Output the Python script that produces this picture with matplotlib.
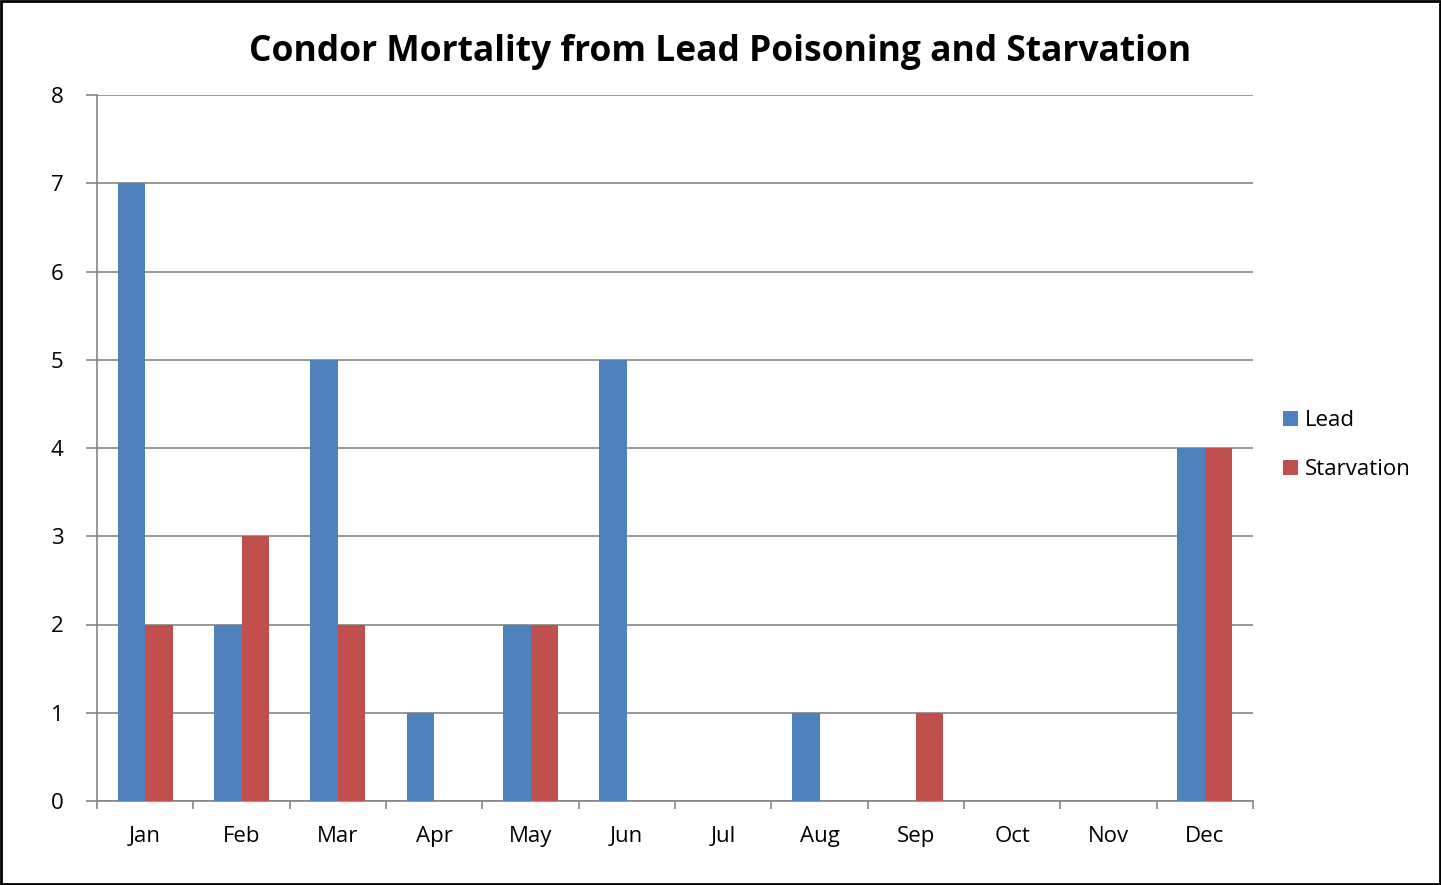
import numpy as np
import matplotlib
matplotlib.use("Agg")
import matplotlib.pyplot as plt
from matplotlib.patches import Rectangle

months = ["Jan", "Feb", "Mar", "Apr", "May", "Jun", "Jul", "Aug", "Sep", "Oct", "Nov", "Dec"]
lead = [7, 2, 5, 1, 2, 5, 0, 1, 0, 0, 0, 4]
starvation = [2, 3, 2, 0, 2, 0, 0, 0, 1, 0, 0, 4]

plt.rcParams["font.family"] = ["Open Sans", "DejaVu Sans"]

fig = plt.figure(figsize=(14.41, 8.85), dpi=100)
ax = fig.add_axes([97 / 1441, 84 / 885, (1253 - 97) / 1441, (801 - 95) / 885])

x = np.arange(len(months))
w = 0.285
ax.bar(x - w / 2, lead, width=w, color="#4F81BD", label="Lead", zorder=3)
ax.bar(x + w / 2, starvation, width=w, color="#C0504D", label="Starvation", zorder=3)

ax.set_xlim(-0.5, len(months) - 0.5)
ax.set_ylim(0, 8)
ax.set_yticks(range(0, 9))
ax.yaxis.grid(True, color="#868686", linewidth=1.2, zorder=0)
ax.set_xticks(x)
ax.set_xticklabels(months)
ax.set_xticks(np.arange(-0.5, len(months)), minor=True)
ax.tick_params(axis="x", which="major", length=0, pad=18, labelsize=16)
ax.tick_params(axis="x", which="minor", length=6, width=1.2, color="#868686")
ax.tick_params(axis="y", length=8, width=1.2, color="#868686", pad=16, labelsize=16)

for s in ["top", "right"]:
    ax.spines[s].set_visible(False)
for s in ["left", "bottom"]:
    ax.spines[s].set_color("#868686")
    ax.spines[s].set_linewidth(1.2)

fig.text(0.5, 0.9415, "Condor Mortality from Lead Poisoning and Starvation",
         ha="center", va="center", fontsize=25.5, fontweight="bold")

ax.legend(loc="center left", bbox_to_anchor=(1.009, 0.504), frameon=False,
          fontsize=16, handlelength=0.65, handleheight=0.65, handletextpad=0.3,
          labelspacing=1.25)

fig.patches.append(Rectangle((0.001, 0.001), 0.998, 0.998, transform=fig.transFigure,
                             fill=False, edgecolor="black", linewidth=2))

fig.savefig("out.png", dpi=100)
